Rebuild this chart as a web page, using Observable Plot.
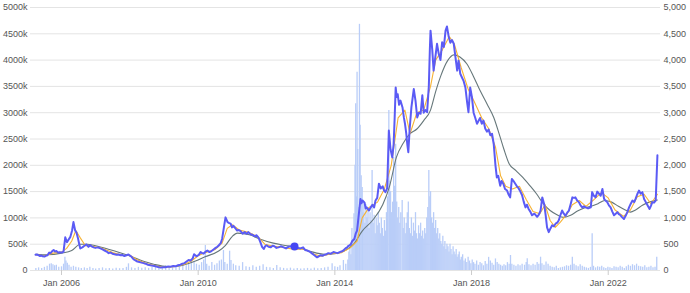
<!DOCTYPE html>
<html><head><meta charset="utf-8">
<script src="https://cdn.jsdelivr.net/npm/d3@7"></script>
<script src="https://cdn.jsdelivr.net/npm/@observablehq/plot@0.6"></script>
<style>body{margin:0;background:#fff}#chart svg{display:block}</style>
</head><body><div id="chart"></div>
<script>
// time is in decimal years, price in thousands, volume in units
const xTickYears = [2006, 2010, 2014, 2018, 2022];
const yTicks = [0, 500, 1000, 1500, 2000, 2500, 3000, 3500, 4000, 4500, 5000];

const price = [
[2005.24,300],[2005.28,305],[2005.33,290],[2005.37,275],[2005.41,285],[2005.45,270],[2005.50,265],[2005.54,280],[2005.59,290],
[2005.64,340],[2005.68,330],[2005.73,370],[2005.77,390],[2005.81,360],[2005.85,370],[2005.90,340],[2005.94,345],
[2006.01,340],[2006.06,360],[2006.11,630],[2006.16,540],[2006.20,580],[2006.26,640],[2006.31,760],[2006.35,920],[2006.40,760],[2006.44,720],
[2006.48,620],[2006.52,500],[2006.55,420],[2006.61,440],[2006.67,470],[2006.73,495],[2006.79,450],[2006.84,480],[2006.88,460],[2006.94,440],[2006.99,430],
[2007.06,440],[2007.14,420],[2007.20,400],[2007.26,380],[2007.32,360],[2007.38,330],[2007.44,340],[2007.49,320],[2007.55,310],[2007.61,300],
[2007.67,305],[2007.73,290],[2007.78,295],[2007.84,275],[2007.90,290],[2007.96,305],
[2008.05,260],[2008.10,220],[2008.14,200],[2008.22,170],[2008.28,160],[2008.34,150],[2008.40,140],[2008.46,130],[2008.53,110],[2008.60,100],
[2008.68,90],[2008.75,80],[2008.83,65],[2008.90,55],[2008.97,62],
[2009.04,60],[2009.12,75],[2009.19,70],[2009.27,85],[2009.34,80],[2009.41,100],[2009.48,110],[2009.54,130],[2009.60,140],[2009.66,170],[2009.72,200],[2009.78,190],[2009.84,230],[2009.88,310],[2009.95,270],
[2010.02,300],[2010.07,350],[2010.12,330],[2010.16,320],[2010.22,360],[2010.27,380],[2010.33,350],[2010.39,370],[2010.45,400],[2010.51,430],[2010.56,450],[2010.60,475],[2010.66,520],[2010.70,600],[2010.76,850],[2010.80,1010],
[2010.86,920],[2010.91,900],[2010.95,890],[2010.99,820],[2011.03,850],[2011.09,800],[2011.14,760],[2011.19,770],[2011.24,750],[2011.30,700],[2011.36,730],[2011.42,700],[2011.47,730],[2011.53,690],[2011.59,680],[2011.65,650],[2011.71,670],
[2011.77,620],[2011.82,540],[2011.87,450],[2011.92,410],[2011.96,460],[2012.00,480],[2012.06,450],[2012.12,440],[2012.18,470],[2012.23,460],[2012.29,430],[2012.35,440],[2012.42,460],[2012.50,440],[2012.57,420],[2012.64,450],[2012.72,460],[2012.82,456],
[2012.90,430],[2012.99,420],[2013.07,440],[2013.13,390],[2013.19,380],[2013.26,360],[2013.32,330],[2013.40,290],[2013.48,250],[2013.53,270],[2013.58,290],[2013.64,280],[2013.70,300],[2013.76,310],[2013.81,330],[2013.88,320],[2013.96,350],
[2014.02,340],[2014.08,330],[2014.14,350],[2014.19,360],[2014.25,380],[2014.31,420],[2014.36,440],[2014.40,470],[2014.46,490],[2014.51,560],[2014.57,600],[2014.61,700],[2014.65,760],[2014.69,1000],
[2014.75,1360],[2014.78,1280],[2014.81,1330],[2014.87,1290],[2014.90,1180],[2014.93,1200],[2015.00,1140],[2015.05,1200],[2015.10,1250],[2015.15,1200],[2015.19,1330],[2015.24,1380],
[2015.29,1650],[2015.34,1560],[2015.40,1600],[2015.44,1520],[2015.48,1490],[2015.53,1560],[2015.56,2200],[2015.58,2660],[2015.63,2300],[2015.68,2150],
[2015.72,2400],[2015.75,2900],[2015.78,3480],[2015.81,3300],[2015.84,3350],[2015.88,3150],[2015.92,3230],[2015.98,3100],[2016.02,2910],[2016.05,2800],[2016.09,2600],[2016.12,2400],[2016.15,2250],
[2016.19,2700],[2016.24,3100],[2016.28,3300],[2016.31,3450],[2016.36,3230],[2016.41,2910],[2016.46,3000],[2016.51,2980],[2016.56,3330],
[2016.60,3000],[2016.65,3050],[2016.70,3010],[2016.75,3500],[2016.78,4200],[2016.80,4560],[2016.85,4200],[2016.89,3800],[2016.94,4050],
[2016.99,4310],[2017.04,4120],[2017.09,4000],[2017.14,4340],[2017.19,4250],[2017.24,4560],[2017.28,4640],[2017.33,4450],
[2017.38,4330],[2017.43,4380],[2017.48,4310],[2017.53,4050],[2017.58,3800],[2017.62,3990],[2017.67,3740],[2017.72,3670],[2017.77,3600],[2017.82,3480],
[2017.87,3200],[2017.91,3010],[2017.96,3480],[2018.01,3300],[2018.06,3000],[2018.11,2900],[2018.16,2790],[2018.21,2850],[2018.25,2900],[2018.30,2790],[2018.35,2850],
[2018.40,2700],[2018.45,2640],[2018.50,2680],[2018.55,2570],[2018.60,2600],[2018.65,2400],[2018.70,2000],[2018.74,1770],[2018.78,1800],[2018.84,1610],
[2018.88,1700],[2018.93,1650],[2018.98,1550],[2019.04,1520],[2019.08,1450],[2019.13,1390],[2019.18,1740],[2019.23,1700],[2019.28,1650],[2019.33,1600],[2019.38,1560],[2019.43,1500],[2019.48,1430],[2019.53,1300],[2019.58,1200],
[2019.62,1250],[2019.67,1170],[2019.72,1120],[2019.77,1050],[2019.84,1080],[2019.92,1020],[2019.97,1060],[2020.02,1140],[2020.07,1390],[2020.13,1250],[2020.17,1050],[2020.21,820],[2020.26,730],
[2020.31,800],[2020.36,860],[2020.41,840],[2020.46,890],[2020.51,910],[2020.55,950],[2020.60,1050],[2020.65,1140],[2020.70,1080],[2020.75,1040],[2020.80,1100],[2020.85,1140],[2020.90,1260],[2020.95,1390],[2021.00,1380],[2021.04,1390],
[2021.09,1330],[2021.14,1300],[2021.19,1240],[2021.24,1200],[2021.29,1220],[2021.34,1200],[2021.41,1180],[2021.49,1200],[2021.53,1490],[2021.58,1420],[2021.63,1390],[2021.68,1500],[2021.73,1460],[2021.78,1420],[2021.83,1550],
[2021.88,1360],[2021.92,1330],[2021.97,1300],[2022.02,1240],[2022.07,1200],[2022.12,1120],[2022.17,1050],[2022.22,1080],[2022.27,1110],[2022.31,1070],[2022.36,1050],[2022.41,1010],[2022.46,980],[2022.51,1040],[2022.56,1110],
[2022.61,1200],[2022.66,1270],[2022.71,1330],[2022.76,1300],[2022.80,1360],[2022.85,1450],[2022.90,1520],[2022.95,1460],[2023.00,1490],[2023.05,1360],[2023.10,1300],[2023.15,1240],[2023.21,1170],
[2023.25,1230],[2023.29,1300],[2023.34,1290],[2023.39,1330],[2023.44,2190]
];

const shortAvg = [
[2005.24,300],[2005.50,280],[2005.75,330],[2006.00,350],[2006.15,420],[2006.30,560],[2006.42,760],[2006.55,620],[2006.70,470],
[2006.90,460],[2007.20,420],[2007.50,340],[2007.80,285],[2008.00,290],[2008.20,210],[2008.50,130],[2008.80,85],[2009.00,60],
[2009.30,70],[2009.60,120],[2009.80,180],[2010.00,280],[2010.20,340],[2010.50,400],[2010.70,520],[2010.85,800],[2011.00,870],
[2011.20,770],[2011.50,720],[2011.75,640],[2011.95,500],[2012.20,460],[2012.50,440],[2012.82,400],[2013.10,410],[2013.40,310],
[2013.60,270],[2013.90,320],[2014.20,340],[2014.45,430],[2014.65,560],[2014.80,1000],[2015.00,1200],[2015.25,1300],[2015.45,1550],
[2015.65,2000],[2015.85,2900],[2016.05,3050],[2016.20,2600],[2016.40,3000],[2016.60,3050],[2016.80,3500],[2016.95,4000],
[2017.15,4200],[2017.35,4450],[2017.50,4300],[2017.70,3850],[2017.90,3450],[2018.05,3250],[2018.30,2900],[2018.50,2700],
[2018.70,2350],[2018.85,1800],[2019.00,1600],[2019.20,1550],[2019.40,1600],[2019.60,1350],[2019.80,1120],[2020.00,1080],
[2020.15,1250],[2020.30,950],[2020.45,820],[2020.60,920],[2020.80,1080],[2020.95,1250],[2021.15,1330],[2021.35,1220],
[2021.55,1330],[2021.80,1480],[2022.00,1380],[2022.20,1150],[2022.45,1030],[2022.65,1150],[2022.85,1400],[2023.05,1450],
[2023.25,1270],[2023.44,1450]
];

const longAvg = [
[2005.24,310],[2005.60,300],[2006.00,330],[2006.30,380],[2006.55,500],[2006.75,500],[2007.00,470],[2007.40,400],[2007.90,300],
[2008.30,200],[2008.70,120],[2009.10,75],[2009.40,80],[2009.60,110],[2009.90,175],[2010.20,260],[2010.60,370],[2010.80,480],
[2011.00,650],[2011.15,710],[2011.50,680],[2011.80,600],[2012.20,520],[2012.60,470],[2013.00,420],[2013.30,360],[2013.70,310],
[2014.00,320],[2014.30,380],[2014.55,500],[2014.80,750],[2015.10,950],[2015.40,1250],[2015.60,1600],[2015.80,2150],[2016.00,2420],
[2016.20,2600],[2016.40,2690],[2016.60,2850],[2016.80,3050],[2016.95,3400],[2017.10,3700],[2017.30,3990],[2017.48,4100],
[2017.66,4060],[2017.86,3930],[2018.05,3700],[2018.25,3420],[2018.45,3170],[2018.65,2910],[2018.84,2530],[2018.95,2300],
[2019.10,2030],[2019.30,1900],[2019.50,1770],[2019.70,1620],[2019.90,1460],[2020.10,1270],[2020.30,1140],[2020.50,1060],
[2020.70,1010],[2020.90,1050],[2021.10,1130],[2021.30,1190],[2021.50,1220],[2021.70,1270],[2021.90,1330],[2022.10,1300],
[2022.30,1220],[2022.50,1150],[2022.65,1110],[2022.80,1150],[2023.00,1240],[2023.20,1300],[2023.44,1340]
];

const volume = [
[2005.25,40],[2005.33,50],[2005.42,40],[2005.50,60],[2005.58,80],[2005.65,120],[2005.70,130],[2005.75,110],[2005.80,90],[2005.85,100],
[2005.92,60],[2006.00,70],[2006.06,120],[2006.10,250],[2006.13,180],[2006.17,140],[2006.22,100],[2006.28,60],[2006.35,80],[2006.42,60],
[2006.50,50],[2006.58,40],[2006.67,50],[2006.75,40],[2006.83,60],[2006.92,40],[2007.00,30],[2007.10,40],[2007.20,50],[2007.30,35],
[2007.40,40],[2007.50,30],[2007.60,45],[2007.70,35],[2007.80,40],[2007.90,60],[2007.96,127],[2008.05,50],[2008.15,40],[2008.25,60],
[2008.35,45],[2008.45,50],[2008.55,40],[2008.65,55],[2008.75,60],[2008.85,45],[2008.95,40],[2009.05,90],[2009.15,50],[2009.25,60],
[2009.35,80],[2009.45,60],[2009.55,100],[2009.65,90],[2009.72,130],[2009.80,180],[2009.88,150],[2009.95,120],[2010.03,100],[2010.10,150],
[2010.16,200],[2010.21,475],[2010.25,120],[2010.32,80],[2010.40,150],[2010.48,100],[2010.55,130],[2010.62,180],[2010.68,200],[2010.74,380],
[2010.78,150],[2010.85,120],[2010.92,367],[2010.96,190],[2011.03,120],[2011.10,90],[2011.20,80],[2011.30,150],[2011.40,70],[2011.50,60],
[2011.60,90],[2011.70,60],[2011.80,80],[2011.90,110],[2012.00,60],[2012.10,50],[2012.20,40],[2012.30,95],[2012.40,50],[2012.50,40],
[2012.60,35],[2012.70,45],[2012.80,30],[2012.90,40],[2013.00,30],[2013.10,35],[2013.20,40],[2013.30,30],[2013.40,45],[2013.50,35],
[2013.60,40],[2013.70,50],[2013.80,60],[2013.92,127],[2014.00,70],[2014.08,60],[2014.15,90],[2014.25,190],[2014.32,120],
[2014.38,200],[2014.41,350],[2014.44,500],[2014.47,300],[2014.50,800],[2014.53,600],[2014.56,1080],[2014.59,2000],[2014.61,3170],[2014.63,1400],
[2014.65,3770],[2014.67,2300],[2014.70,1200],[2014.72,4680],[2014.74,2760],[2014.77,1800],[2014.80,1580],[2014.82,1100],[2014.85,1300],[2014.88,900],
[2014.91,1250],[2014.94,1000],[2014.97,1150],[2015.00,800],[2015.03,1100],[2015.06,950],[2015.09,1900],[2015.12,900],[2015.15,1050],[2015.18,700],
[2015.21,1000],[2015.24,850],[2015.27,1100],[2015.30,900],[2015.33,700],[2015.36,1000],[2015.39,800],[2015.42,650],[2015.45,950],[2015.48,750],
[2015.51,1100],[2015.54,1400],[2015.58,3040],[2015.60,1700],[2015.63,1500],[2015.66,1100],[2015.69,1300],[2015.72,2150],[2015.75,1600],[2015.78,2400],
[2015.81,1300],[2015.84,1000],[2015.87,1200],[2015.90,900],[2015.93,1100],[2015.97,1330],[2016.00,800],[2016.03,1000],[2016.06,700],[2016.09,900],
[2016.12,1100],[2016.15,1300],[2016.18,800],[2016.21,700],[2016.24,1000],[2016.27,650],[2016.30,900],[2016.33,750],[2016.36,1100],[2016.39,700],
[2016.42,600],[2016.45,850],[2016.48,700],[2016.51,900],[2016.54,650],[2016.57,750],[2016.60,600],[2016.63,800],[2016.66,700],[2016.69,1000],
[2016.72,1200],[2016.75,1900],[2016.78,1400],[2016.80,1500],[2016.83,1000],[2016.86,900],[2016.89,1100],[2016.92,800],[2016.95,950],[2016.98,700],
[2017.01,800],[2017.04,600],[2017.07,700],[2017.10,550],[2017.13,500],[2017.16,650],[2017.19,450],[2017.22,550],[2017.25,400],[2017.28,500],
[2017.31,450],[2017.34,350],[2017.37,500],[2017.40,400],[2017.43,300],[2017.46,450],[2017.49,350],[2017.52,300],[2017.55,400],[2017.58,250],
[2017.61,300],[2017.64,350],[2017.67,200],[2017.70,250],[2017.74,300],[2017.78,180],[2017.82,220],[2017.86,150],[2017.90,250],[2017.94,180],
[2017.98,130],[2018.02,200],[2018.06,150],
[2018.10,120],[2018.15,180],[2018.20,100],[2018.25,150],[2018.30,130],[2018.35,90],[2018.40,170],[2018.45,120],[2018.50,250],[2018.55,180],
[2018.60,140],[2018.65,100],[2018.70,220],[2018.75,150],[2018.80,120],[2018.85,100],[2018.90,80],[2018.95,110],[2019.00,90],[2019.05,150],
[2019.10,120],[2019.14,285],[2019.18,120],[2019.24,100],[2019.30,80],[2019.36,110],[2019.42,90],[2019.48,120],[2019.55,100],[2019.60,150],
[2019.63,222],[2019.68,110],[2019.74,90],[2019.80,120],[2019.86,100],[2019.92,150],[2019.97,120],[2020.02,253],[2020.06,130],[2020.12,100],
[2020.18,160],[2020.24,120],[2020.30,80],[2020.36,60],[2020.42,50],[2020.48,80],[2020.54,40],[2020.60,50],[2020.66,60],[2020.72,70],
[2020.78,90],[2020.84,80],[2020.90,100],[2020.95,253],[2021.00,120],[2021.06,90],[2021.12,70],[2021.18,110],[2021.24,80],[2021.30,60],
[2021.36,50],[2021.42,40],[2021.48,60],[2021.53,697],[2021.57,80],[2021.63,50],[2021.69,70],[2021.75,60],[2021.81,80],[2021.87,50],
[2021.93,40],[2021.99,60],[2022.05,50],[2022.11,40],[2022.17,70],[2022.23,60],[2022.29,50],[2022.35,80],[2022.41,60],[2022.47,40],
[2022.53,70],[2022.59,100],[2022.65,80],[2022.71,110],[2022.77,90],[2022.83,120],[2022.89,80],[2022.95,70],[2023.01,60],[2023.07,90],
[2023.13,50],[2023.19,60],[2023.25,80],[2023.31,50],[2023.37,60],[2023.42,253]
];

const marker = [[2012.82, 456]];

const rows = a => a.map(([t, v]) => ({t, v}));

const chart = Plot.plot({
  width: 690, height: 293,
  marginLeft: 30, marginRight: 30, marginTop: 7, marginBottom: 23,
  style: {fontFamily: "Arial, 'Liberation Sans', sans-serif", fontSize: "9px", color: "#555", background: "#fff"},
  x: {type: "linear", domain: [2005.093, 2023.53]},
  y: {domain: [0, 5000]},
  marks: [
    Plot.gridY(yTicks, {stroke: "#e4e4e4", strokeOpacity: 1}),
    Plot.ruleX(rows(volume), {x: "t", y1: 0, y2: "v", stroke: "#b9cdf8", strokeWidth: 1.3}),
    Plot.line(rows(longAvg), {x: "t", y: "v", stroke: "#66777a", strokeWidth: 1.1, curve: "monotone-x"}),
    Plot.line(rows(shortAvg), {x: "t", y: "v", stroke: "#f7b334", strokeWidth: 1.1}),
    Plot.line(rows(price), {x: "t", y: "v", stroke: "#5b5bf5", strokeWidth: 2}),
    Plot.dot(rows(marker), {x: "t", y: "v", r: 4, fill: "#4646f2", stroke: "none"}),
    Plot.axisY(yTicks, {anchor: "left", tickSize: 0, tickPadding: 3, tickFormat: d => d === 0 ? "0" : d + "k", label: null}),
    Plot.axisY(yTicks, {anchor: "right", tickSize: 0, tickPadding: 3, tickFormat: d3.format(","), label: null}),
    Plot.axisX(xTickYears, {tickSize: 5, tickPadding: 4, tickFormat: d => "Jan " + d, stroke: "#ccc", fill: "#555", label: null})
  ]
});
document.getElementById("chart").append(chart);
</script>
</body></html>
